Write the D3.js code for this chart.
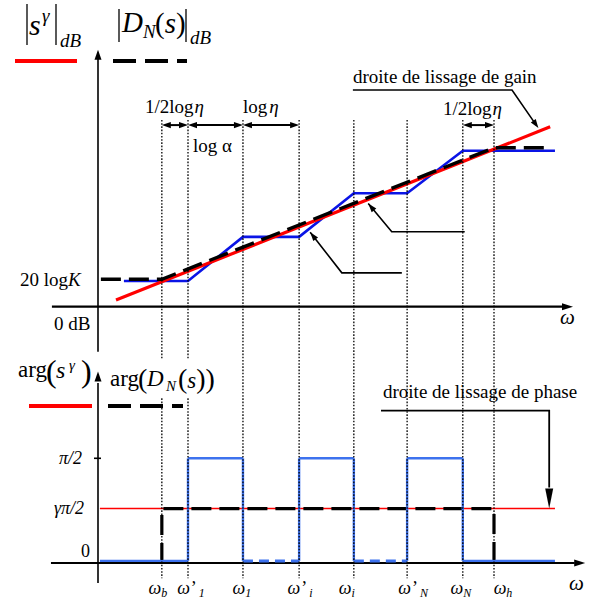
<!DOCTYPE html>
<html><head><meta charset="utf-8">
<script src="https://cdn.jsdelivr.net/npm/d3@7"></script>
<style>
body{margin:0;background:#fff}
svg{display:block}
text{font-family:"Liberation Serif","Times New Roman",serif;fill:#000}
</style>
</head><body><div id="chart"></div>
<script>
// ---------- data (abstract log-frequency units / dB units / phase in units of pi/2) ----------
const freqSymbols = ["ω_b","ω'_1","ω_1","ω'_i","ω_i","ω'_N","ω_N","ω_h"];
const freqPos     = [13.3, 18.75, 30.2, 41.9, 53.3, 64.4, 76.0, 82.5];

const gainK = 6.3;                       // 20 log K
const blueGainU  = [5.4, 18.75, 30.2, 41.9, 53.3, 64.4, 76.0, 95.2];
const blueGainV  = [6.0, 6.0, 16.3, 16.3, 26.5, 26.5, 36.4, 36.4];
const blackGainU = [0.6, 13.3, 82.5, 93.5];
const blackGainV = [6.4, 6.4, 37.1, 37.1];
const redGainU   = [3.75, 94.2];
const redGainV   = [1.55, 42.0];

const gammaLevel = 0.52;                 // gamma*pi/2 in units of pi/2
const bluePhaseU = [0.4, 18.75, 18.75, 30.2, 30.2, 41.9, 41.9, 53.3, 53.3, 64.4, 64.4, 76.0, 76.0, 95.2];
const bluePhaseV = [0.02,0.02, 1, 1, 0.02,0.02, 1, 1, 0.02,0.02, 1, 1, 0.02,0.02];
const blackPhaseU = [13.3, 13.3, 82.5, 82.5];
const blackPhaseV = [0, 0.52, 0.52, 0];
const redPhaseU = [0.4, 95.2];

const phaseTickValues = [1, 0.52, 0];
const phaseTickLabels = ["π/2", "γπ/2", "0"];

// ---------- setup ----------
const W = 596, H = 602;
const svg = d3.select("#chart").append("svg").attr("width", W).attr("height", H);
const x  = d3.scaleLinear().domain([0, 100]).range([98, 578]);
const yG = d3.scaleLinear().domain([0, 60]).range([306.7, 49.7]);
const yP = d3.scaleLinear().domain([0, 1]).range([563, 458.3]);

const RED = "#ff0000", BLUE = "#0a14e6", LBLUE = "#3d72ee";
const line = d3.line();

function head(g, tx, ty, ang, len, hw) {
  const c = Math.cos(ang), s = Math.sin(ang);
  const bx = tx - c * len, by = ty - s * len;
  g.append("path")
    .attr("d", `M${tx},${ty}L${bx - s * hw},${by + c * hw}L${bx + s * hw},${by - c * hw}Z`)
    .attr("fill", "#000");
}

const gAxes = svg.append("g");
const gCurves = svg.append("g");
const gDots = svg.append("g");
const gText = svg.append("g");

// ---------- axes ----------
// gain
gAxes.append("line").attr("x1", x(0)).attr("x2", x(0)).attr("y1", yG(-10.5)).attr("y2", yG(58.5))
  .attr("stroke", "#000").attr("stroke-width", 1.6);
head(gAxes, x(0), yG(60), -Math.PI / 2, 10, 3.5);
gAxes.append("line").attr("x1", x(-9.6)).attr("x2", x(96.8)).attr("y1", yG(0)).attr("y2", yG(0))
  .attr("stroke", "#000").attr("stroke-width", 2.2);
head(gAxes, x(98.96), yG(0), 0, 11, 3.5);
// phase
gAxes.append("line").attr("x1", x(0)).attr("x2", x(0)).attr("y1", yP(-0.19)).attr("y2", yP(1.72))
  .attr("stroke", "#000").attr("stroke-width", 1.6);
head(gAxes, x(0), yP(1.83), -Math.PI / 2, 10, 3.5);
gAxes.append("line").attr("x1", x(-9.8)).attr("x2", x(99.3)).attr("y1", yP(0)).attr("y2", yP(0))
  .attr("stroke", "#000").attr("stroke-width", 2.2);
head(gAxes, x(101.5), yP(0), 0, 11, 3.5);
// pi/2 tick
gAxes.append("line").attr("x1", x(0) - 4).attr("x2", x(0) + 3).attr("y1", yP(1)).attr("y2", yP(1))
  .attr("stroke", "#000").attr("stroke-width", 1.6);

// ---------- gain curves ----------
gCurves.append("path").attr("d", line(blueGainU.map((u, i) => [x(u), yG(blueGainV[i])])))
  .attr("fill", "none").attr("stroke", BLUE).attr("stroke-width", 2.6);
gCurves.append("path").attr("d", line(redGainU.map((u, i) => [x(u), yG(redGainV[i])])))
  .attr("fill", "none").attr("stroke", RED).attr("stroke-width", 3.2);
gCurves.append("path").attr("d", line(blackGainU.map((u, i) => [x(u), yG(blackGainV[i])])))
  .attr("fill", "none").attr("stroke", "#000").attr("stroke-width", 3.4).attr("stroke-dasharray", "20,8");

// ---------- phase curves ----------
gCurves.append("path").attr("d", line(redPhaseU.map(u => [x(u), yP(gammaLevel)])))
  .attr("fill", "none").attr("stroke", RED).attr("stroke-width", 1.6);
gCurves.append("path").attr("d", line(blackPhaseU.map((u, i) => [x(u), yP(blackPhaseV[i])])))
  .attr("fill", "none").attr("stroke", "#000").attr("stroke-width", 3.2).attr("stroke-dasharray", "20,8");
for (let i = 0; i < bluePhaseU.length - 1; i++) {
  const u0 = bluePhaseU[i], u1 = bluePhaseU[i + 1], v0 = bluePhaseV[i], v1 = bluePhaseV[i + 1];
  const dashed = v0 === v1 && v0 < 0.5 && u0 >= freqPos[2] - 0.01 && u1 <= freqPos[5] + 0.01;
  gCurves.append("line").attr("x1", x(u0)).attr("x2", x(u1)).attr("y1", yP(v0)).attr("y2", yP(v1))
    .attr("stroke", LBLUE).attr("stroke-width", dashed ? 3 : 2.4)
    .attr("stroke-dasharray", dashed ? "10,6" : null);
}

// ---------- dotted frequency lines ----------
freqPos.forEach(u => {
  gDots.append("line").attr("x1", x(u)).attr("x2", x(u)).attr("y1", yG(43.6)).attr("y2", yP(-0.145))
    .attr("stroke", "#000").attr("stroke-width", 1.3).attr("stroke-dasharray", "1.6,1.6");
});

// ---------- dimension arrows ----------
const dimPairs = [[0, 1], [1, 2], [2, 3], [6, 7]];
const dimV = 42.4;
dimPairs.forEach(([a, b]) => {
  const x0 = x(freqPos[a]), x1 = x(freqPos[b]), yy = yG(dimV);
  gText.append("line").attr("x1", x0 + 6).attr("x2", x1 - 6).attr("y1", yy).attr("y2", yy)
    .attr("stroke", "#000").attr("stroke-width", 2);
  head(gText, x0, yy, Math.PI, 9, 3.2);
  head(gText, x1, yy, 0, 9, 3.2);
});

function rich(g, xx, yy, parts, anchor) {
  const t = g.append("text").attr("x", xx).attr("y", yy).attr("text-anchor", anchor || "start");
  parts.forEach(p => {
    const ts = t.append("tspan").text(p.t).style("font-size", (p.s || 19) + "px");
    if (p.i) ts.style("font-style", "italic");
    if (p.dy) ts.attr("dy", p.dy);
    if (p.dx) ts.attr("dx", p.dx);
  });
  return t;
}

// dimension labels
rich(gText, 145, 113, [{t: "1/2log"}, {t: "η", i: 1, dx: 1}]);
rich(gText, 193, 152, [{t: "log α"}]);
rich(gText, 243, 113, [{t: "log"}, {t: "η", i: 1, dx: 2}]);
rich(gText, 443, 115, [{t: "1/2log"}, {t: "η", i: 1, dx: 1}]);

// gain annotation
rich(gText, 353, 83, [{t: "droite de lissage de gain"}]);
gText.append("path").attr("d", line([[x(53.1), yG(50.6)], [x(86.25), yG(50.6)], [x(91.3), yG(42.4)]]))
  .attr("fill", "none").attr("stroke", "#000").attr("stroke-width", 1.6);
head(gText, x(91.75), yG(41.7), Math.atan2(yG(41.7) - yG(50.6), x(91.75) - x(86.25)), 9, 3);

// pointer lines (unlabelled)
const pointers = [
  [[63.3, 7.9], [50.8, 7.9], [44.2, 17.4]],
  [[76.4, 17.5], [61.2, 17.5], [56.3, 24.1]]
];
pointers.forEach(p => {
  const pts = p.map(d => [x(d[0]), yG(d[1])]);
  gText.append("path").attr("d", line(pts)).attr("fill", "none").attr("stroke", "#000").attr("stroke-width", 1.6);
  const a = pts[2], b = pts[1];
  head(gText, a[0], a[1], Math.atan2(a[1] - b[1], a[0] - b[0]), 9, 3);
});

// gain axis labels
rich(gText, 20, 286, [{t: "20 log"}, {t: "K", i: 1}]);
rich(gText, 54, 330, [{t: "0 dB"}]);
rich(gText, 560, 324, [{t: "ω", i: 1, s: 21}]);

// gain legend
gText.append("line").attr("x1", 27).attr("x2", 27).attr("y1", 4).attr("y2", 45).attr("stroke", "#000").attr("stroke-width", 1.3);
gText.append("line").attr("x1", 56).attr("x2", 56).attr("y1", 4).attr("y2", 45).attr("stroke", "#000").attr("stroke-width", 1.3);
rich(gText, 29, 35, [{t: "s", i: 1, s: 30}]);
rich(gText, 42, 22, [{t: "γ", i: 1, s: 19}]);
rich(gText, 60, 47, [{t: "dB", i: 1, s: 19}]);
gText.append("line").attr("x1", 119).attr("x2", 119).attr("y1", 9).attr("y2", 42).attr("stroke", "#000").attr("stroke-width", 1.3);
gText.append("line").attr("x1", 186).attr("x2", 186).attr("y1", 9).attr("y2", 42).attr("stroke", "#000").attr("stroke-width", 1.3);
rich(gText, 122, 32, [{t: "D", i: 1, s: 29}]);
rich(gText, 143, 38, [{t: "N", i: 1, s: 19}]);
rich(gText, 155, 33, [{t: "(", s: 29}, {t: "s", i: 1, s: 29}, {t: ")", s: 29}]);
rich(gText, 190, 44, [{t: "dB", i: 1, s: 19}]);
gText.append("line").attr("x1", 15).attr("x2", 77).attr("y1", 61).attr("y2", 61).attr("stroke", RED).attr("stroke-width", 4);
gText.append("line").attr("x1", 113).attr("x2", 187).attr("y1", 61).attr("y2", 61).attr("stroke", "#000").attr("stroke-width", 4).attr("stroke-dasharray", "23,9");

// phase legend
gText.append("rect").attr("x", 106).attr("y", 360).attr("width", 120).attr("height", 37).attr("fill", "#fff");
rich(gText, 18, 377, [{t: "arg", s: 23}]);
rich(gText, 46, 382, [{t: "(", s: 32}]);
rich(gText, 56, 378, [{t: "s", i: 1, s: 24}]);
rich(gText, 69, 370, [{t: "γ", i: 1, s: 15}]);
rich(gText, 81, 382, [{t: ")", s: 32}]);
rich(gText, 110, 386, [{t: "arg", s: 23}]);
rich(gText, 138, 388, [{t: "(", s: 28}]);
rich(gText, 147, 386, [{t: "D", i: 1, s: 23}]);
rich(gText, 166, 391, [{t: "N", i: 1, s: 15}]);
rich(gText, 178, 388, [{t: "(", s: 28}, {t: "s", i: 1, s: 23}, {t: "))", s: 28}]);
gText.append("line").attr("x1", 29).attr("x2", 92).attr("y1", 406).attr("y2", 406).attr("stroke", RED).attr("stroke-width", 4);
gText.append("line").attr("x1", 108).attr("x2", 183).attr("y1", 406).attr("y2", 406).attr("stroke", "#000").attr("stroke-width", 4).attr("stroke-dasharray", "23,9");

// phase tick labels
const tickDx = [-16, -14, -8];
const tickDy = [6, 5, -6];
phaseTickValues.forEach((v, i) => {
  rich(gText, x(0) + tickDx[i], yP(v) + tickDy[i], [{t: phaseTickLabels[i], i: i < 2 ? 1 : 0, s: 18}], "end");
});

// phase annotation
rich(gText, 383, 398, [{t: "droite de lissage de phase"}]);
gText.append("path").attr("d", line([[x(58.96), yP(1.455)], [x(94.0), yP(1.455)], [x(94.0), yP(0.72)]]))
  .attr("fill", "none").attr("stroke", "#000").attr("stroke-width", 1.8);
head(gText, x(94.0), yP(gammaLevel), Math.PI / 2, 20, 4);
rich(gText, 569, 590, [{t: "ω", i: 1, s: 21}]);

// frequency labels
const labelDx = [-4, 3, -1, 1, -7, 6, -2, 9];
freqSymbols.forEach((sym, i) => {
  const [base, sub] = sym.split("_");
  const prime = base.includes("'");
  const parts = [{t: "ω", i: 1, s: 18}];
  if (prime) parts.push({t: "’", s: 18, dx: 1});
  parts.push({t: sub, i: 1, s: 12, dy: 3, dx: prime ? 2 : 0});
  rich(gText, x(freqPos[i]) + labelDx[i], 594, parts, "middle");
});
</script>
</body></html>
